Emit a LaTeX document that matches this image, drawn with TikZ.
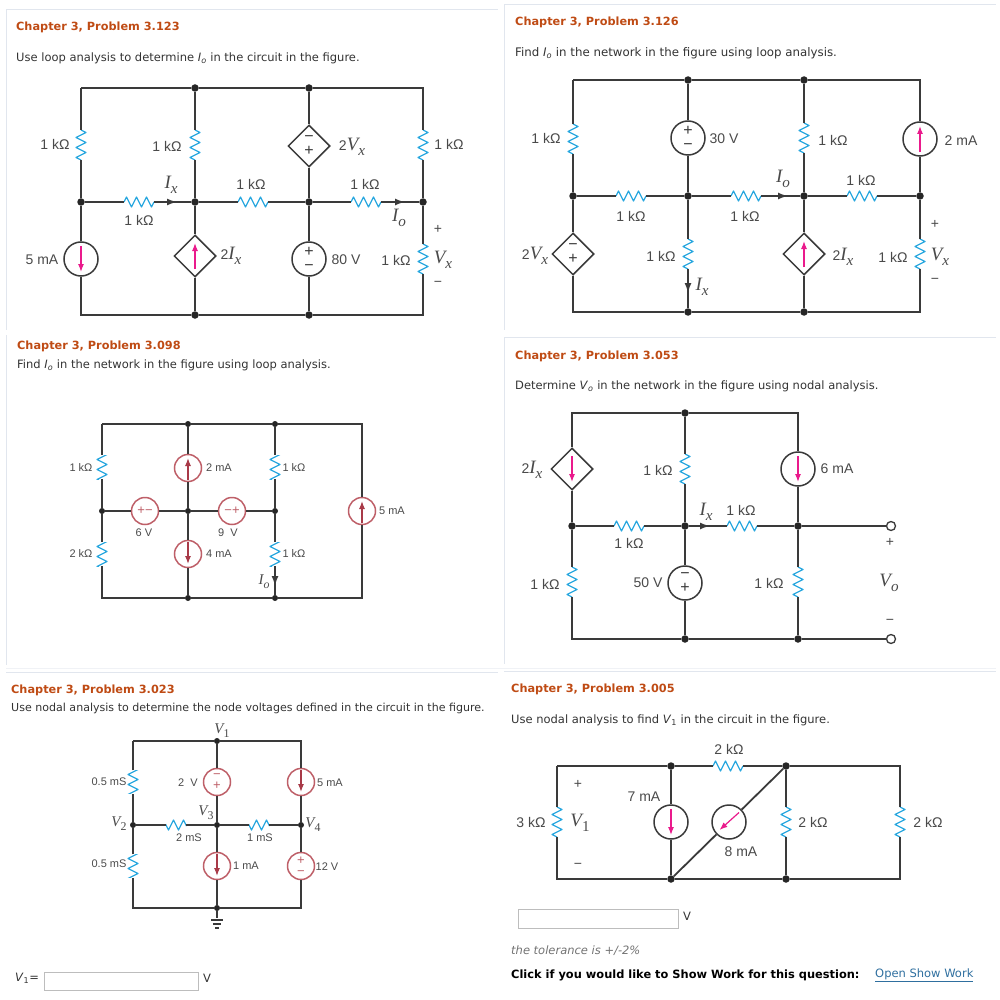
\documentclass[tikz,border=0pt]{standalone}
\usepackage{fontspec}
\setmainfont{DejaVu Sans}
\newfontfamily\labfont{Liberation Sans}
\newfontfamily\varfont[Scale=1.35]{Liberation Serif}
\usetikzlibrary{arrows.meta, shapes.geometric}
\definecolor{wirecol}{HTML}{3A3A3A}
\definecolor{resblue}{HTML}{2BA8DF}
\definecolor{arrowpink}{HTML}{EA1A8C}
\definecolor{arrowred}{HTML}{A83A48}
\definecolor{ringred}{HTML}{BE5F68}
\definecolor{headcol}{HTML}{BF4B14}
\definecolor{textcol}{HTML}{333333}
\definecolor{labcol}{HTML}{4A4A4A}
\definecolor{edgecol}{HTML}{E1E6EE}
\definecolor{boxcol}{HTML}{BDBDBD}
\definecolor{linkcol}{HTML}{2F6F9F}
\newcommand{\varsym}[2]{{\varfont\itshape #1\raisebox{-.28em}{\scalebox{.8}{#2}}}}

\begin{document}
\begin{tikzpicture}[
    x=1pt, y=-1pt,
    wire/.style={draw=wirecol, line width=1.8pt},
    arrow/.style={wire, -{Latex[length=10pt,width=7pt]}},
    panel/.style={draw=edgecol, line width=0.9pt},
    junc/.style={circle, fill=black!85, inner sep=0pt, minimum size=7.5pt},
    juncs/.style={junc, minimum size=6pt},
    term/.style={circle, draw=wirecol, line width=1.3pt, fill=white, inner sep=0pt, minimum size=9pt},
    resv/.style={rectangle, inner sep=0pt, minimum width=16pt, minimum height=#1,
        path picture={\draw[resblue, line width=1.3pt, line join=round, shift={(path picture bounding box.center)}, yscale=#1/30]
        (0,-15) -- (5,-12.5) -- (-5,-7.5) -- (5,-2.5) -- (-5,2.5) -- (5,7.5) -- (-5,12.5) -- (0,15);}},
    resv/.default=30,
    resh/.style={rectangle, inner sep=0pt, minimum height=14pt, minimum width=#1,
        path picture={\draw[resblue, line width=1.3pt, line join=round, shift={(path picture bounding box.center)}, xscale=#1/30]
        (-15,0) -- (-12.5,-5) -- (-7.5,5) -- (-2.5,-5) -- (2.5,5) -- (7.5,-5) -- (12.5,5) -- (15,0);}},
    resh/.default=30,
    src/.style={circle, draw=wirecol, line width=1.5pt, fill=white, inner sep=0pt, minimum size=34pt,
        align=center, text=wirecol, font=\labfont\fontsize{16}{14}\selectfont},
    dep/.style={diamond, aspect=1, draw=wirecol, line width=1.5pt, fill=white, inner sep=0pt, minimum size=42pt,
        align=center, text=wirecol, font=\labfont\fontsize{16}{14}\selectfont},
    ring/.style={src, draw=ringred, minimum size=27pt, text=ringred, font=\labfont\fontsize{13}{11}\selectfont},
    flow/.style n args={3}{path picture={\draw[#1, line width=1.2pt, -{Latex[length=8pt,width=6pt]},
        shift={(path picture bounding box.center)}] (#2) -- (#3);}},
    flowup/.style={flow={arrowpink}{0,13}{0,-13}},
    flowdn/.style={flow={arrowpink}{0,-13}{0,13}},
    flowdg/.style={flow={arrowpink}{10,-9.5}{-9.5,8}},
    flowupr/.style={flow={arrowred}{0,12}{0,-10}},
    flowdnr/.style={flow={arrowred}{0,-12}{0,10}},
    gndsym/.style={rectangle, inner sep=0pt, minimum width=13pt, minimum height=11pt,
        path picture={\draw[wirecol, line width=1.3pt, shift={(path picture bounding box.center)}]
        (-6,-4) -- (6,-4) (-4,0) -- (4,0) (-2,4) -- (2,4);}},
    lab/.style={text=labcol, inner sep=0pt, font=\labfont\fontsize{14}{16}\selectfont},
    labs/.style={lab, font=\labfont\fontsize{11}{13}\selectfont},
    head/.style={anchor=west, inner sep=0pt, yshift=-1.5pt, text=headcol, font=\bfseries\fontsize{11.3}{13}\selectfont},
    prose/.style={anchor=west, inner sep=0pt, yshift=-1.5pt, text=textcol, font=\fontsize{11.5}{13}\selectfont},
    inbox/.style={rectangle, draw=boxcol, line width=0.9pt, fill=white, inner sep=0pt, anchor=north west}
]
\useasboundingbox (0,0) rectangle (1000,1000);

% frames of the six panels
\coordinate (f1a) at (6,330); \coordinate (f1b) at (6,9); \coordinate (f1c) at (498,9);
\coordinate (f2a) at (504,330); \coordinate (f2b) at (504,4); \coordinate (f2c) at (996,4);
\coordinate (f3a) at (6,335); \coordinate (f3b) at (6,665);
\coordinate (f3c) at (6,668); \coordinate (f3d) at (996,668);
\coordinate (f4a) at (504,664); \coordinate (f4b) at (504,337); \coordinate (f4c) at (996,337);
\coordinate (f5a) at (6,672); \coordinate (f5b) at (498,672);
\coordinate (f6a) at (504,671); \coordinate (f6b) at (996,671);
\draw[panel] (f1a) -- (f1b) -- (f1c);
\draw[panel] (f2a) -- (f2b) -- (f2c);
\draw[panel] (f3a) -- (f3b);
\draw[panel, draw=edgecol!50] (f3c) -- (f3d);
\draw[panel] (f4a) -- (f4b) -- (f4c);
\draw[panel] (f5a) -- (f5b);
\draw[panel] (f6a) -- (f6b);

% Problem 3.123
\node[head] (h1) at (16,26) {Chapter 3, Problem 3.123};
\node[prose] (q1) at (16,57) {Use loop analysis to determine \textit{I}\textsubscript{\textit{o}} in the circuit in the figure.};
\coordinate (c1tl) at (81,88); \coordinate (c1tr) at (423,88);
\coordinate (c1bl) at (81,315); \coordinate (c1br) at (423,315);
\node[junc] (j1t2) at (195,88) {};
\node[junc] (j1t3) at (309,88) {};
\node[junc] (j1m1) at (81,202) {};
\node[junc] (j1m2) at (195,202) {};
\node[junc] (j1m3) at (309,202) {};
\node[junc] (j1m4) at (423,202) {};
\node[junc] (j1b2) at (195,315) {};
\node[junc] (j1b3) at (309,315) {};
\node[resv] (r1a) at (81,145) {};
\node[resv] (r1b) at (195,145) {};
\node[dep] (d1a) at (309,146) {−\\+};
\node[resv] (r1c) at (423,145) {};
\node[resh] (r1d) at (139,202) {};
\node[resh] (r1e) at (253,202) {};
\node[resh] (r1f) at (366,202) {};
\coordinate (a1a) at (177,202);
\coordinate (a1b) at (405,202);
\node[src, flowdn] (s1a) at (81,259) {};
\node[dep, flowup] (d1b) at (195,256) {};
\node[src] (v1a) at (309,259) {+\\−};
\node[resv] (r1g) at (423,259) {};
\draw[wire] (c1tl) -- (j1t2) -- (j1t3) -- (c1tr) -- (r1c) -- (j1m4) -- (r1g) -- (c1br) -- (j1b3) -- (j1b2) -- (c1bl) -- (s1a) -- (j1m1) -- (r1a) -- (c1tl);
\draw[wire] (j1t2) -- (r1b) -- (j1m2) -- (d1b) -- (j1b2);
\draw[wire] (j1t3) -- (d1a) -- (j1m3) -- (v1a) -- (j1b3);
\draw[wire] (j1m1) -- (r1d) -- (j1m2) -- (r1e) -- (j1m3) -- (r1f) -- (j1m4);
\draw[arrow] (r1d) -- (a1a);
\draw[arrow] (r1f) -- (a1b);
\node[lab] (l1a) at (55,144) {1 kΩ};
\node[lab] (l1b) at (167,146) {1 kΩ};
\node[lab] (l1c) at (352,147) {2\varsym{V}{x}};
\node[lab] (l1d) at (449,144) {1 kΩ};
\node[lab] (l1e) at (171,185) {\varsym{I}{x}};
\node[lab] (l1f) at (251,184.5) {1 kΩ};
\node[lab] (l1g) at (365,184.5) {1 kΩ};
\node[lab] (l1h) at (139,220) {1 kΩ};
\node[lab] (l1i) at (399,218) {\varsym{I}{o}};
\node[lab] (l1j) at (438,229) {+};
\node[lab] (l1k) at (42,260) {5 mA};
\node[lab] (l1l) at (231,256) {2\varsym{I}{x}};
\node[lab] (l1m) at (346,260) {80 V};
\node[lab] (l1n) at (396,260) {1 kΩ};
\node[lab] (l1o) at (443,260) {\varsym{V}{x}};
\node[lab] (l1p) at (438,284) {−};

% Problem 3.126
\node[head] (h2) at (515,21) {Chapter 3, Problem 3.126};
\node[prose, font=\fontsize{11.8}{13}\selectfont] (q2) at (515,52) {Find \textit{I}\textsubscript{\textit{o}} in the network in the figure using loop analysis.};
\coordinate (c2tl) at (573,80); \coordinate (c2tr) at (920,80);
\coordinate (c2bl) at (573,312); \coordinate (c2br) at (920,312);
\node[junc] (j2t2) at (688,80) {};
\node[junc] (j2t3) at (804,80) {};
\node[junc] (j2m1) at (573,196) {};
\node[junc] (j2m2) at (688,196) {};
\node[junc] (j2m3) at (804,196) {};
\node[junc] (j2m4) at (920,196) {};
\node[junc] (j2b2) at (688,312) {};
\node[junc] (j2b3) at (804,312) {};
\node[resv] (r2a) at (573,139) {};
\node[src] (v2a) at (688,138) {+\\−};
\node[resv] (r2b) at (804,138) {};
\node[src, flowup] (s2a) at (920,139) {};
\node[resh] (r2c) at (631,196) {};
\node[resh] (r2d) at (746,196) {};
\node[resh] (r2e) at (862,196) {};
\coordinate (a2a) at (788,196);
\node[dep] (d2a) at (573,254) {−\\+};
\node[resv] (r2f) at (688,254) {};
\coordinate (a2b) at (688,293);
\node[dep, flowup] (d2b) at (804,254) {};
\node[resv] (r2g) at (920,254) {};
\draw[wire] (c2tl) -- (j2t2) -- (j2t3) -- (c2tr) -- (s2a) -- (j2m4) -- (r2g) -- (c2br) -- (j2b3) -- (j2b2) -- (c2bl) -- (d2a) -- (j2m1) -- (r2a) -- (c2tl);
\draw[wire] (j2t2) -- (v2a) -- (j2m2) -- (r2f) -- (j2b2);
\draw[arrow] (r2f) -- (a2b);
\draw[wire] (j2t3) -- (r2b) -- (j2m3) -- (d2b) -- (j2b3);
\draw[wire] (j2m1) -- (r2c) -- (j2m2) -- (r2d) -- (j2m3) -- (r2e) -- (j2m4);
\draw[arrow] (r2d) -- (a2a);
\node[lab] (l2a) at (546,138) {1 kΩ};
\node[lab] (l2b) at (724,139) {30 V};
\node[lab] (l2c) at (833,140) {1 kΩ};
\node[lab] (l2d) at (961,141) {2 mA};
\node[lab] (l2e) at (783,179) {\varsym{I}{o}};
\node[lab] (l2f) at (861,180) {1 kΩ};
\node[lab] (l2g) at (631,216) {1 kΩ};
\node[lab] (l2h) at (745,216) {1 kΩ};
\node[lab] (l2i) at (935,224) {+};
\node[lab] (l2j) at (535,256) {2\varsym{V}{x}};
\node[lab] (l2k) at (661,256) {1 kΩ};
\node[lab] (l2l) at (843,257) {2\varsym{I}{x}};
\node[lab] (l2m) at (893,257) {1 kΩ};
\node[lab] (l2n) at (940,257) {\varsym{V}{x}};
\node[lab] (l2o) at (935,281) {−};
\node[lab] (l2p) at (702,287) {\varsym{I}{x}};

% Problem 3.098
\node[head] (h3) at (17,345) {Chapter 3, Problem 3.098};
\node[prose] (q3) at (17,364) {Find \textit{I}\textsubscript{\textit{o}} in the network in the figure using loop analysis.};
\coordinate (c3tl) at (102,424); \coordinate (c3tr) at (362,424);
\coordinate (c3bl) at (102,598); \coordinate (c3br) at (362,598);
\node[juncs] (j3t2) at (188,424) {};
\node[juncs] (j3t3) at (275,424) {};
\node[juncs] (j3m1) at (102,511) {};
\node[juncs] (j3m2) at (188,511) {};
\node[juncs] (j3m3) at (275,511) {};
\node[juncs] (j3b2) at (188,598) {};
\node[juncs] (j3b3) at (275,598) {};
\node[resv=24] (r3a) at (102,467) {};
\node[ring, flowupr] (s3a) at (188,468) {};
\node[resv=24] (r3b) at (275,467) {};
\node[ring] (v3a) at (145,511) {+−};
\node[ring] (v3b) at (232,511) {−+};
\node[ring, flowupr] (s3b) at (362,511) {};
\node[resv=24] (r3c) at (102,554) {};
\node[ring, flowdnr] (s3c) at (188,554) {};
\node[resv=24] (r3d) at (275,554) {};
\coordinate (a3a) at (275,586);
\draw[wire] (c3tl) -- (j3t2) -- (j3t3) -- (c3tr) -- (s3b) -- (c3br) -- (j3b3) -- (j3b2) -- (c3bl) -- (r3c) -- (j3m1) -- (r3a) -- (c3tl);
\draw[wire] (j3t2) -- (s3a) -- (j3m2) -- (s3c) -- (j3b2);
\draw[wire] (j3t3) -- (r3b) -- (j3m3) -- (r3d) -- (j3b3);
\draw[arrow] (r3d) -- (a3a);
\draw[wire] (j3m1) -- (v3a) -- (j3m2) -- (v3b) -- (j3m3);
\node[labs] (l3a) at (81,468) {1 kΩ};
\node[labs] (l3b) at (219,468) {2 mA};
\node[labs] (l3c) at (294,468) {1 kΩ};
\node[labs] (l3d) at (392,511) {5 mA};
\node[labs] (l3e) at (144,533) {6 V};
\node[labs] (l3f) at (228,533) {9~~V};
\node[labs] (l3g) at (81,554) {2 kΩ};
\node[labs] (l3h) at (219,554) {4 mA};
\node[labs] (l3i) at (294,554) {1 kΩ};
\node[labs] (l3j) at (264,582) {\varsym{I}{o}};

% Problem 3.053
\node[head] (h4) at (515,355) {Chapter 3, Problem 3.053};
\node[prose] (q4) at (515,385) {Determine \textit{V}\textsubscript{\textit{o}} in the network in the figure using nodal analysis.};
\coordinate (c4tl) at (572,413); \coordinate (c4tr) at (798,413);
\coordinate (c4bl) at (572,639);
\node[junc] (j4t2) at (685,413) {};
\node[junc] (j4m1) at (572,526) {};
\node[junc] (j4m2) at (685,526) {};
\node[junc] (j4m3) at (798,526) {};
\node[junc] (j4b2) at (685,639) {};
\node[junc] (j4b3) at (798,639) {};
\node[term] (t4a) at (891,526) {};
\node[term] (t4b) at (891,639) {};
\node[dep, flowdn] (d4a) at (572,469) {};
\node[resv] (r4a) at (685,469) {};
\node[src, flowdn] (s4a) at (798,469) {};
\node[resh] (r4b) at (629,526) {};
\node[resh] (r4c) at (742,526) {};
\coordinate (a4a) at (710,526);
\node[resv] (r4d) at (572,582) {};
\node[src] (v4a) at (685,583) {−\\+};
\node[resv] (r4e) at (798,582) {};
\draw[wire] (t4b) -- (j4b3) -- (j4b2) -- (c4bl) -- (r4d) -- (j4m1) -- (d4a) -- (c4tl) -- (j4t2) -- (c4tr) -- (s4a) -- (j4m3) -- (r4e) -- (j4b3);
\draw[wire] (j4t2) -- (r4a) -- (j4m2) -- (v4a) -- (j4b2);
\draw[wire] (j4m1) -- (r4b) -- (j4m2) -- (r4c) -- (j4m3) -- (t4a);
\draw[arrow] (j4m2) -- (a4a);
\node[lab] (l4a) at (532,470) {2\varsym{I}{x}};
\node[lab] (l4b) at (658,470) {1 kΩ};
\node[lab] (l4c) at (837,469) {6 mA};
\node[lab] (l4d) at (706,512) {\varsym{I}{x}};
\node[lab] (l4e) at (741,510) {1 kΩ};
\node[lab] (l4f) at (629,543) {1 kΩ};
\node[lab] (l4g) at (890,542) {+};
\node[lab] (l4h) at (545,584) {1 kΩ};
\node[lab] (l4i) at (648,583) {50 V};
\node[lab] (l4j) at (769,583) {1 kΩ};
\node[lab] (l4k) at (889,583) {\varsym{V}{o}};
\node[lab] (l4l) at (890,622) {−};

% Problem 3.023
\node[head] (h5) at (11,689) {Chapter 3, Problem 3.023};
\node[prose, font=\fontsize{11.05}{13}\selectfont] (q5) at (11,707) {Use nodal analysis to determine the node voltages defined in the circuit in the figure.};
\coordinate (c5tl) at (133,741); \coordinate (c5tr) at (301,741);
\coordinate (c5bl) at (133,908); \coordinate (c5br) at (301,908);
\node[juncs] (j5t) at (217,741) {};
\node[juncs] (j5m1) at (133,825) {};
\node[juncs] (j5m2) at (217,825) {};
\node[juncs] (j5m3) at (301,825) {};
\node[juncs] (j5b) at (217,908) {};
\node[resv=23] (r5a) at (133,782) {};
\node[ring] (v5a) at (217,782) {−\\+};
\node[ring, flowdnr] (s5a) at (301,782) {};
\node[resh=20] (r5b) at (176,825) {};
\node[resh=20] (r5c) at (259,825) {};
\node[resv=23] (r5d) at (133,866) {};
\node[ring, flowdnr] (s5b) at (217,866) {};
\node[ring] (v5b) at (301,866) {+\\−};
\node[gndsym] (g5) at (217,924) {};
\draw[wire] (c5tl) -- (j5t) -- (c5tr) -- (s5a) -- (j5m3) -- (v5b) -- (c5br) -- (j5b) -- (c5bl) -- (r5d) -- (j5m1) -- (r5a) -- (c5tl);
\draw[wire] (j5t) -- (v5a) -- (j5m2) -- (s5b) -- (j5b) -- (g5);
\draw[wire] (j5m1) -- (r5b) -- (j5m2) -- (r5c) -- (j5m3);
\node[labs] (l5a) at (222,731) {\varsym{V}{\upshape 1}};
\node[labs] (l5b) at (109,782) {0.5 mS};
\node[labs] (l5c) at (188,783) {2~~V};
\node[labs] (l5d) at (330,783) {5 mA};
\node[labs] (l5e) at (206,813) {\varsym{V}{\upshape 3}};
\node[labs] (l5f) at (119,824) {\varsym{V}{\upshape 2}};
\node[labs] (l5g) at (313,825) {\varsym{V}{\upshape 4}};
\node[labs] (l5h) at (189,838) {2 mS};
\node[labs] (l5i) at (260,838) {1 mS};
\node[labs] (l5j) at (109,864) {0.5 mS};
\node[labs] (l5k) at (246,866) {1 mA};
\node[labs] (l5l) at (327,867) {12 V};
\node[prose] (a5) at (15,977) {\textit{V}\textsubscript{1}=};
\node[inbox, minimum width=154pt, minimum height=18pt] (b5) at (44,972) {};
\node[prose] (u5) at (203,977) {V};

% Problem 3.005
\node[head] (h6) at (511,688) {Chapter 3, Problem 3.005};
\node[prose] (q6) at (511,719) {Use nodal analysis to find \textit{V}\textsubscript{1} in the circuit in the figure.};
\coordinate (c6tl) at (557,766); \coordinate (c6tr) at (900,766);
\coordinate (c6bl) at (557,879); \coordinate (c6br) at (900,879);
\node[junc] (j6t2) at (671,766) {};
\node[junc] (j6t3) at (786,766) {};
\node[junc] (j6b2) at (671,879) {};
\node[junc] (j6b3) at (786,879) {};
\node[resh] (r6a) at (728,766) {};
\node[resv] (r6b) at (557,822) {};
\node[src, flowdn] (s6a) at (671,822) {};
\node[src, flowdg] (s6b) at (729,822) {};
\node[resv] (r6c) at (786,822) {};
\node[resv] (r6d) at (900,822) {};
\draw[wire] (c6tl) -- (j6t2) -- (r6a) -- (j6t3) -- (c6tr) -- (r6d) -- (c6br) -- (j6b3) -- (j6b2) -- (c6bl) -- (r6b) -- (c6tl);
\draw[wire] (j6t2) -- (s6a) -- (j6b2);
\draw[wire] (j6t3) -- (r6c) -- (j6b3);
\draw[wire] (j6t3) -- (s6b) -- (j6b2);
\node[lab] (l6a) at (729,749) {2 kΩ};
\node[lab] (l6b) at (578,784) {+};
\node[lab] (l6c) at (644,797) {7 mA};
\node[lab] (l6d) at (531,822) {3 kΩ};
\node[lab] (l6e) at (580,823) {\varsym{V}{\upshape 1}};
\node[lab] (l6f) at (813,822) {2 kΩ};
\node[lab] (l6g) at (928,822) {2 kΩ};
\node[lab] (l6h) at (741,852) {8 mA};
\node[lab] (l6i) at (578,866) {−};
\node[inbox, minimum width=160pt, minimum height=19pt] (b6) at (518,909) {};
\node[prose] (u6) at (683,915) {V};
\node[prose, text=black!55] (n6) at (511,949) {\textit{the tolerance is +/-2\%}};
\node[prose, text=black, font=\bfseries\fontsize{11.4}{13}\selectfont] (c6) at (511,974) {Click if you would like to Show Work for this question:};
\node[prose, text=linkcol] (w6) at (875,974) {\underline{Open Show Work}};

\end{tikzpicture}
\end{document}
